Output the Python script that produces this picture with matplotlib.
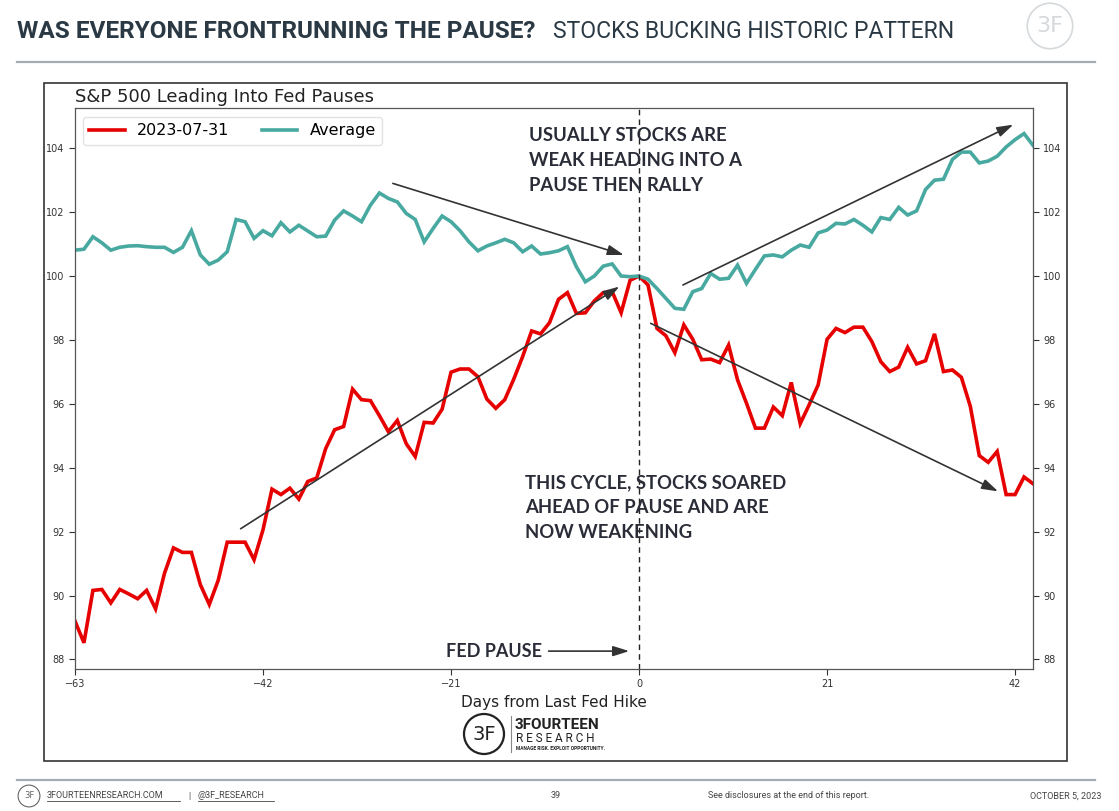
import numpy as np
import matplotlib
matplotlib.use("Agg")
import matplotlib.pyplot as plt
from matplotlib.patches import Rectangle, Circle
from matplotlib.lines import Line2D

# ---------------- data ----------------
days = list(range(-63, 45))
sp_2023 = [89.2, 88.52, 90.16, 90.19, 89.77, 90.19, 90.05, 89.9, 90.16, 89.58,
           90.7, 91.49, 91.35, 91.35, 90.34, 89.72, 90.48, 91.67, 91.67, 91.67,
           91.12, 92.06, 93.33, 93.16, 93.36, 93.02, 93.57, 93.68, 94.6, 95.19,
           95.29, 96.46, 96.13, 96.1, 95.63, 95.13, 95.48, 94.75, 94.35, 95.42,
           95.4, 95.83, 96.99, 97.09, 97.09, 96.85, 96.15, 95.86, 96.13, 96.77,
           97.48, 98.28, 98.19, 98.54, 99.27, 99.48, 98.83, 98.85, 99.22, 99.48,
           99.51, 98.85, 99.87, 100.0, 99.72, 98.36, 98.13, 97.6, 98.47, 98.02,
           97.38, 97.4, 97.29, 97.84, 96.75, 96.02, 95.24, 95.24, 95.9, 95.63,
           96.67, 95.38, 95.97, 96.59, 98.02, 98.36, 98.23, 98.4, 98.4, 97.95,
           97.32, 97.01, 97.15, 97.77, 97.25, 97.35, 98.19, 97.01, 97.06, 96.83,
           95.92, 94.38, 94.17, 94.51, 93.16, 93.16, 93.71, 93.5]
average = [100.81, 100.84, 101.23, 101.04, 100.81, 100.9, 100.94, 100.95, 100.92, 100.9,
           100.9, 100.74, 100.9, 101.42, 100.66, 100.37, 100.5, 100.76, 101.77, 101.7,
           101.18, 101.42, 101.26, 101.67, 101.38, 101.59, 101.41, 101.23, 101.25, 101.75,
           102.04, 101.88, 101.7, 102.22, 102.6, 102.43, 102.32, 101.96, 101.77, 101.07,
           101.49, 101.88, 101.7, 101.42, 101.07, 100.79, 100.94, 101.04, 101.15, 101.04,
           100.76, 100.94, 100.69, 100.73, 100.79, 100.92, 100.29, 99.82, 100.0, 100.31,
           100.38, 100.0, 99.98, 100.0, 99.9, 99.61, 99.3, 98.99, 98.96, 99.51,
           99.61, 100.08, 99.9, 99.93, 100.34, 99.77, 100.21, 100.63, 100.66, 100.6,
           100.81, 100.97, 100.9, 101.35, 101.44, 101.65, 101.63, 101.77, 101.59, 101.38,
           101.83, 101.77, 102.15, 101.91, 102.04, 102.71, 103.0, 103.03, 103.65, 103.88,
           103.88, 103.54, 103.6, 103.75, 104.04, 104.27, 104.46, 104.09]
x_ticks = [-63, -42, -21, 0, 21, 42]
y_ticks = [88, 90, 92, 94, 96, 98, 100, 102, 104]
series_labels = ["2023-07-31", "Average"]

RED = "#e60000"
TEAL = "#48a9a1"
NAVY = "#2a3944"
ANN = "#2a2d38"

W, H = 1119, 811
fig = plt.figure(figsize=(W / 100, H / 100), dpi=100)
fig.patch.set_facecolor("white")

def fx(px):
    return px / W

def fy(py):
    return 1 - py / H

# ---------------- main axes ----------------
ax = fig.add_axes([fx(75), fy(669), fx(1033) - fx(75), fy(108) - fy(669)])
ax.plot(days, sp_2023, color=RED, lw=2.6, label=series_labels[0], solid_joinstyle="miter")
ax.plot(days, average, color=TEAL, lw=2.6, label=series_labels[1], solid_joinstyle="miter")
ax.axvline(0, color="#222222", lw=1.0, ls=(0, (4, 3)))
ax.set_xlim(days[0], days[-1])
ax.set_ylim(87.7, 105.26)
ax.set_xticks(x_ticks)
ax.set_yticks(y_ticks)
ax.tick_params(axis="both", labelsize=7, colors="#333333", length=4, width=0.8)
ax.tick_params(axis="y", right=True, labelright=True)
for s in ax.spines.values():
    s.set_color("#555555")
    s.set_linewidth(0.9)
ax.set_title("S&P 500 Leading Into Fed Pauses", loc="left", fontsize=13, color="#222222", pad=4)
ax.set_xlabel("Days from Last Fed Hike", fontsize=11, color="#222222", labelpad=4)
leg = ax.legend(loc="upper left", ncol=2, fontsize=11.5, frameon=True, handlelength=2.2,
                columnspacing=2.0, borderaxespad=0.5, bbox_to_anchor=(0.0, 0.998))
leg.get_frame().set_edgecolor("#dddddd")

# arrows
arrow_kw = dict(arrowstyle="-|>,head_length=0.7,head_width=0.22", color="#333333", lw=1.2,
                shrinkA=0, shrinkB=0, mutation_scale=14)
ax.annotate("", xy=(-1.7, 100.66), xytext=(-27.5, 102.9), arrowprops=arrow_kw)
ax.annotate("", xy=(-2.2, 99.67), xytext=(-44.5, 92.09), arrowprops=arrow_kw)
ax.annotate("", xy=(41.8, 104.74), xytext=(4.9, 99.72), arrowprops=arrow_kw)
ax.annotate("", xy=(40.1, 93.26), xytext=(1.3, 98.52), arrowprops=arrow_kw)
ax.annotate("", xy=(-1.1, 88.26), xytext=(-10.1, 88.26), arrowprops=arrow_kw)

ax.text(-12.27, 104.65, "USUALLY STOCKS ARE\nWEAK HEADING INTO A\nPAUSE THEN RALLY",
        fontsize=13.3, fontweight="bold", family="Lato", color=ANN, va="top", ha="left",
        linespacing=1.55)
ax.text(-12.7, 93.8, "THIS CYCLE, STOCKS SOARED\nAHEAD OF PAUSE AND ARE\nNOW WEAKENING",
        fontsize=13.3, fontweight="bold", family="Lato", color=ANN, va="top", ha="left",
        linespacing=1.55)
ax.text(-21.6, 88.26, "FED PAUSE", fontsize=13.0, fontweight="bold", family="Lato",
        color=ANN, va="center", ha="left")

# ---------------- frame / header / footer ----------------
fig.add_artist(Rectangle((fx(44), fy(761)), fx(1067) - fx(44), fy(83) - fy(761),
                         transform=fig.transFigure, fill=False, ec="#333333", lw=1.2))
fig.add_artist(Line2D([fx(17), fx(1095)], [fy(62), fy(62)], transform=fig.transFigure,
                      color="#a3adb3", lw=1.6))
fig.add_artist(Line2D([fx(17), fx(1095)], [fy(780), fy(780)], transform=fig.transFigure,
                      color="#a3adb3", lw=1.6))

fig.text(fx(17), fy(31), "WAS EVERYONE FRONTRUNNING THE PAUSE?", family="Roboto",
         fontweight="bold", fontsize=17.6, color=NAVY, va="center", ha="left")
fig.text(fx(553), fy(31), "STOCKS BUCKING HISTORIC PATTERN", family="Roboto",
         fontweight="normal", fontsize=16.6, color=NAVY, va="center", ha="left")

# top-right faint logo
lax = fig.add_axes([fx(1025), fy(52), fx(50), fy(0) - fy(52)])
lax.set_xlim(-1.1, 1.1)
lax.set_ylim(-1.1, 1.1)
lax.set_aspect("equal")
lax.axis("off")
lax.add_patch(Circle((0, 0), 1.0, fill=False, ec="#d5d9dc", lw=1.2))
lax.text(0, 0, "3F", ha="center", va="center", fontsize=16, color="#d5d9dc", family="DejaVu Sans")

# bottom centre logo
bax = fig.add_axes([fx(462), fy(756), fx(44), fy(712) - fy(756)])
bax.set_xlim(-1.1, 1.1)
bax.set_ylim(-1.1, 1.1)
bax.set_aspect("equal")
bax.axis("off")
bax.add_patch(Circle((0, 0), 1.0, fill=False, ec="#222222", lw=1.6))
bax.text(0, 0, "3F", ha="center", va="center", fontsize=14, color="#222222", family="DejaVu Sans")
fig.add_artist(Line2D([fx(511), fx(511)], [fy(752), fy(716)], transform=fig.transFigure,
                      color="#888888", lw=0.8))
fig.text(fx(515), fy(725), "3FOURTEEN", family="Roboto", fontweight="bold", fontsize=11,
         color="#222222", va="center", ha="left")
fig.text(fx(516), fy(739), "R E S E A R C H", family="Roboto", fontsize=8.5,
         color="#222222", va="center", ha="left")
fig.text(fx(516), fy(749), "MANAGE RISK. EXPLOIT OPPORTUNITY.", family="Roboto", fontsize=3.5,
         fontweight="bold", color="#222222", va="center", ha="left")

# footer
fax = fig.add_axes([fx(17), fy(808), fx(24), fy(784) - fy(808)])
fax.set_xlim(-1.1, 1.1)
fax.set_ylim(-1.1, 1.1)
fax.set_aspect("equal")
fax.axis("off")
fax.add_patch(Circle((0, 0), 1.0, fill=False, ec="#666666", lw=0.8))
fax.text(0, 0, "3F", ha="center", va="center", fontsize=6, color="#666666")

foot_kw = dict(family="Roboto", fontsize=6.5, color="#444444", va="center")
fig.text(fx(47), fy(796), "3FOURTEENRESEARCH.COM", ha="left", **foot_kw)
fig.text(fx(188), fy(796), "|", ha="left", **foot_kw)
fig.text(fx(198), fy(796), "@3F_RESEARCH", ha="left", **foot_kw)
fig.add_artist(Line2D([fx(47), fx(180)], [fy(801), fy(801)], transform=fig.transFigure,
                      color="#444444", lw=0.6))
fig.add_artist(Line2D([fx(198), fx(274)], [fy(801), fy(801)], transform=fig.transFigure,
                      color="#444444", lw=0.6))
fig.text(fx(556), fy(796), "39", ha="center", **foot_kw)
fig.text(fx(708), fy(796), "See disclosures at the end of this report.", ha="left", **foot_kw)
fig.text(fx(1101), fy(796), "OCTOBER 5, 2023", ha="right", **foot_kw)

fig.savefig("out.png", dpi=100, facecolor="white")
